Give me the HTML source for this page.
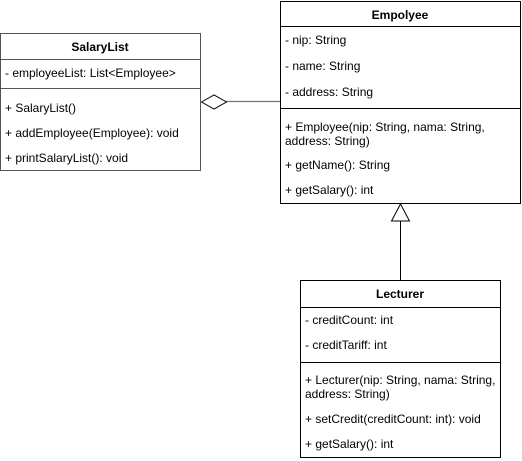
<!DOCTYPE html>
<html><head><meta charset="utf-8"><style>
html,body{margin:0;padding:0;background:#fff;}
svg{display:block;}
text{font-family:"Liberation Sans",sans-serif;font-size:12px;fill:#000;}
.t{font-weight:bold;text-anchor:middle;}
</style></head><body>
<svg width="522" height="461" viewBox="0 0 522 461" xmlns="http://www.w3.org/2000/svg">
<rect x="0" y="0" width="522" height="461" fill="#fff"/>
<g stroke="#555" stroke-width="1" fill="none">
<rect x="0.5" y="33.5" width="200" height="137"/>
<line x1="0" y1="59.5" x2="201" y2="59.5"/>
<line x1="0" y1="88.5" x2="201" y2="88.5"/>
</g>
<text class="t" x="100" y="51">SalaryList</text>
<text x="5" y="77">- employeeList: List&lt;Employee&gt;</text>
<text x="5" y="112">+ SalaryList()</text>
<text x="5" y="137">+ addEmployee(Employee): void</text>
<text x="5" y="162">+ printSalaryList(): void</text>
<line x1="226" y1="101.5" x2="280" y2="101.5" stroke="#777" stroke-width="1.3"/>
<polygon points="201.5,102 214,95 226.5,102 214,109" fill="#fff" stroke="#000" stroke-width="1"/>
<g stroke="#000" stroke-width="1" fill="none">
<rect x="280.5" y="1.5" width="240" height="202"/>
<line x1="280" y1="26.5" x2="521" y2="26.5"/>
<line x1="280" y1="108.5" x2="521" y2="108.5"/>
</g>
<text class="t" x="400" y="19">Empolyee</text>
<text x="285" y="44">- nip: String</text>
<text x="285" y="70">- name: String</text>
<text x="285" y="96">- address: String</text>
<text x="285" y="131">+ Employee(nip: String, nama: String,</text>
<text x="285" y="145">address: String)</text>
<text x="285" y="169">+ getName(): String</text>
<text x="285" y="194">+ getSalary(): int</text>
<line x1="400.5" y1="221" x2="400.5" y2="280" stroke="#000" stroke-width="1"/>
<polygon points="400.5,204 409.5,221 391.5,221" fill="#fff" stroke="#000" stroke-width="1"/>
<g stroke="#000" stroke-width="1" fill="none">
<rect x="300.5" y="280.5" width="200" height="177"/>
<line x1="300" y1="307.5" x2="501" y2="307.5"/>
<line x1="300" y1="362.5" x2="501" y2="362.5"/>
</g>
<text class="t" x="400" y="298">Lecturer</text>
<text x="305" y="324">- creditCount: int</text>
<text x="305" y="349">- creditTariff: int</text>
<text x="305" y="384">+ Lecturer(nip: String, nama: String,</text>
<text x="305" y="398">address: String)</text>
<text x="305" y="423">+ setCredit(creditCount: int): void</text>
<text x="305" y="448">+ getSalary(): int</text>
</svg>
</body></html>
